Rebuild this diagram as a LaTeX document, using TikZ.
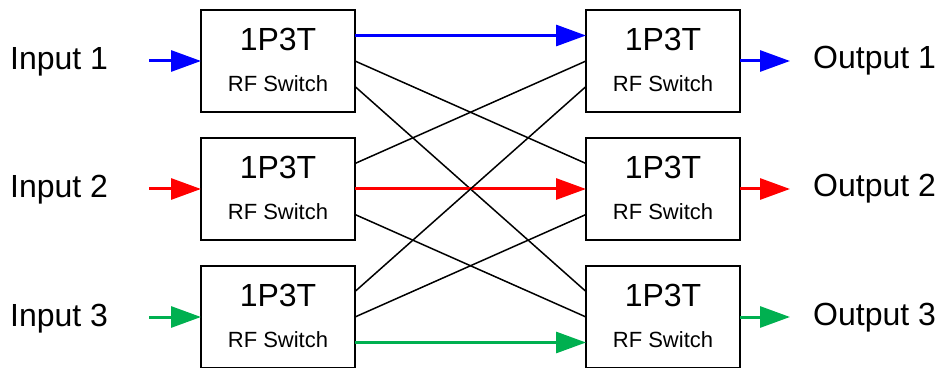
\documentclass[tikz,border=0pt]{standalone}
\usepackage{fontspec}
\setmainfont{Liberation Sans}
\usetikzlibrary{arrows.meta}
\definecolor{swgreen}{RGB}{0,176,80}
\tikzset{
  swbox/.style={draw, line width=1.5pt, minimum width=154pt, minimum height=102pt, outer sep=0pt, inner sep=0pt},
  bigtxt/.style={font=\fontsize{32}{38}\selectfont, inner sep=0pt},
  smalltxt/.style={font=\fontsize{22}{26}\selectfont, inner sep=0pt},
  sig/.style={line width=3pt, -{Triangle[length=30pt,width=21pt]}},
  xline/.style={line width=1.5pt},
}
\begin{document}
\begin{tikzpicture}[x=1pt,y=1pt]
\useasboundingbox (0,0) rectangle (949,367);
% left switches
\node[swbox] (lsw1) at (278,306){};
\node[bigtxt] (lt1) at (278,328){1P3T};
\node[smalltxt] (ls1) at (278,283){RF Switch};
\node[swbox] (lsw2) at (278,178){};
\node[bigtxt] (lt2) at (278,200){1P3T};
\node[smalltxt] (ls2) at (278,155){RF Switch};
\node[swbox] (lsw3) at (278,50){};
\node[bigtxt] (lt3) at (278,72){1P3T};
\node[smalltxt] (ls3) at (278,27){RF Switch};
% right switches
\node[swbox] (rsw1) at (663,306){};
\node[bigtxt] (rt1) at (663,328){1P3T};
\node[smalltxt] (rs1) at (663,283){RF Switch};
\node[swbox] (rsw2) at (663,178){};
\node[bigtxt] (rt2) at (663,200){1P3T};
\node[smalltxt] (rs2) at (663,155){RF Switch};
\node[swbox] (rsw3) at (663,50){};
\node[bigtxt] (rt3) at (663,72){1P3T};
\node[smalltxt] (rs3) at (663,27){RF Switch};
% inputs
\node[bigtxt, anchor=base west] (in1) at (10,297){Input 1};
\node[bigtxt, anchor=base west] (in2) at (10,169){Input 2};
\node[bigtxt, anchor=base west] (in3) at (10,41){Input 3};
\coordinate (in1a) at (149,306);
\coordinate (in2a) at (149,178);
\coordinate (in3a) at (149,50);
\draw[sig, blue] (in1a) -- (lsw1.west);
\draw[sig, red] (in2a) -- (lsw2.west);
\draw[sig, swgreen] (in3a) -- (lsw3.west);
% outputs
\node[bigtxt, anchor=base west] (out1) at (813,298){Output 1};
\node[bigtxt, anchor=base west] (out2) at (813,170){Output 2};
\node[bigtxt, anchor=base west] (out3) at (813,42){Output 3};
\coordinate (out1a) at (790,306);
\coordinate (out2a) at (790,178);
\coordinate (out3a) at (790,50);
\draw[sig, blue] (rsw1.east) -- (out1a);
\draw[sig, red] (rsw2.east) -- (out2a);
\draw[sig, swgreen] (rsw3.east) -- (out3a);
% cross connections
\draw[sig, blue] ([yshift=25.5pt]lsw1.east) -- ([yshift=25.5pt]rsw1.west);
\draw[xline] (lsw1.east) -- ([yshift=25.5pt]rsw2.west);
\draw[xline] ([yshift=-25.5pt]lsw1.east) -- ([yshift=25.5pt]rsw3.west);
\draw[xline] ([yshift=25.5pt]lsw2.east) -- (rsw1.west);
\draw[sig, red] (lsw2.east) -- (rsw2.west);
\draw[xline] ([yshift=-25.5pt]lsw2.east) -- (rsw3.west);
\draw[xline] ([yshift=25.5pt]lsw3.east) -- ([yshift=-25.5pt]rsw1.west);
\draw[xline] (lsw3.east) -- ([yshift=-25.5pt]rsw2.west);
\draw[sig, swgreen] ([yshift=-25.5pt]lsw3.east) -- ([yshift=-25.5pt]rsw3.west);
\end{tikzpicture}
\end{document}
